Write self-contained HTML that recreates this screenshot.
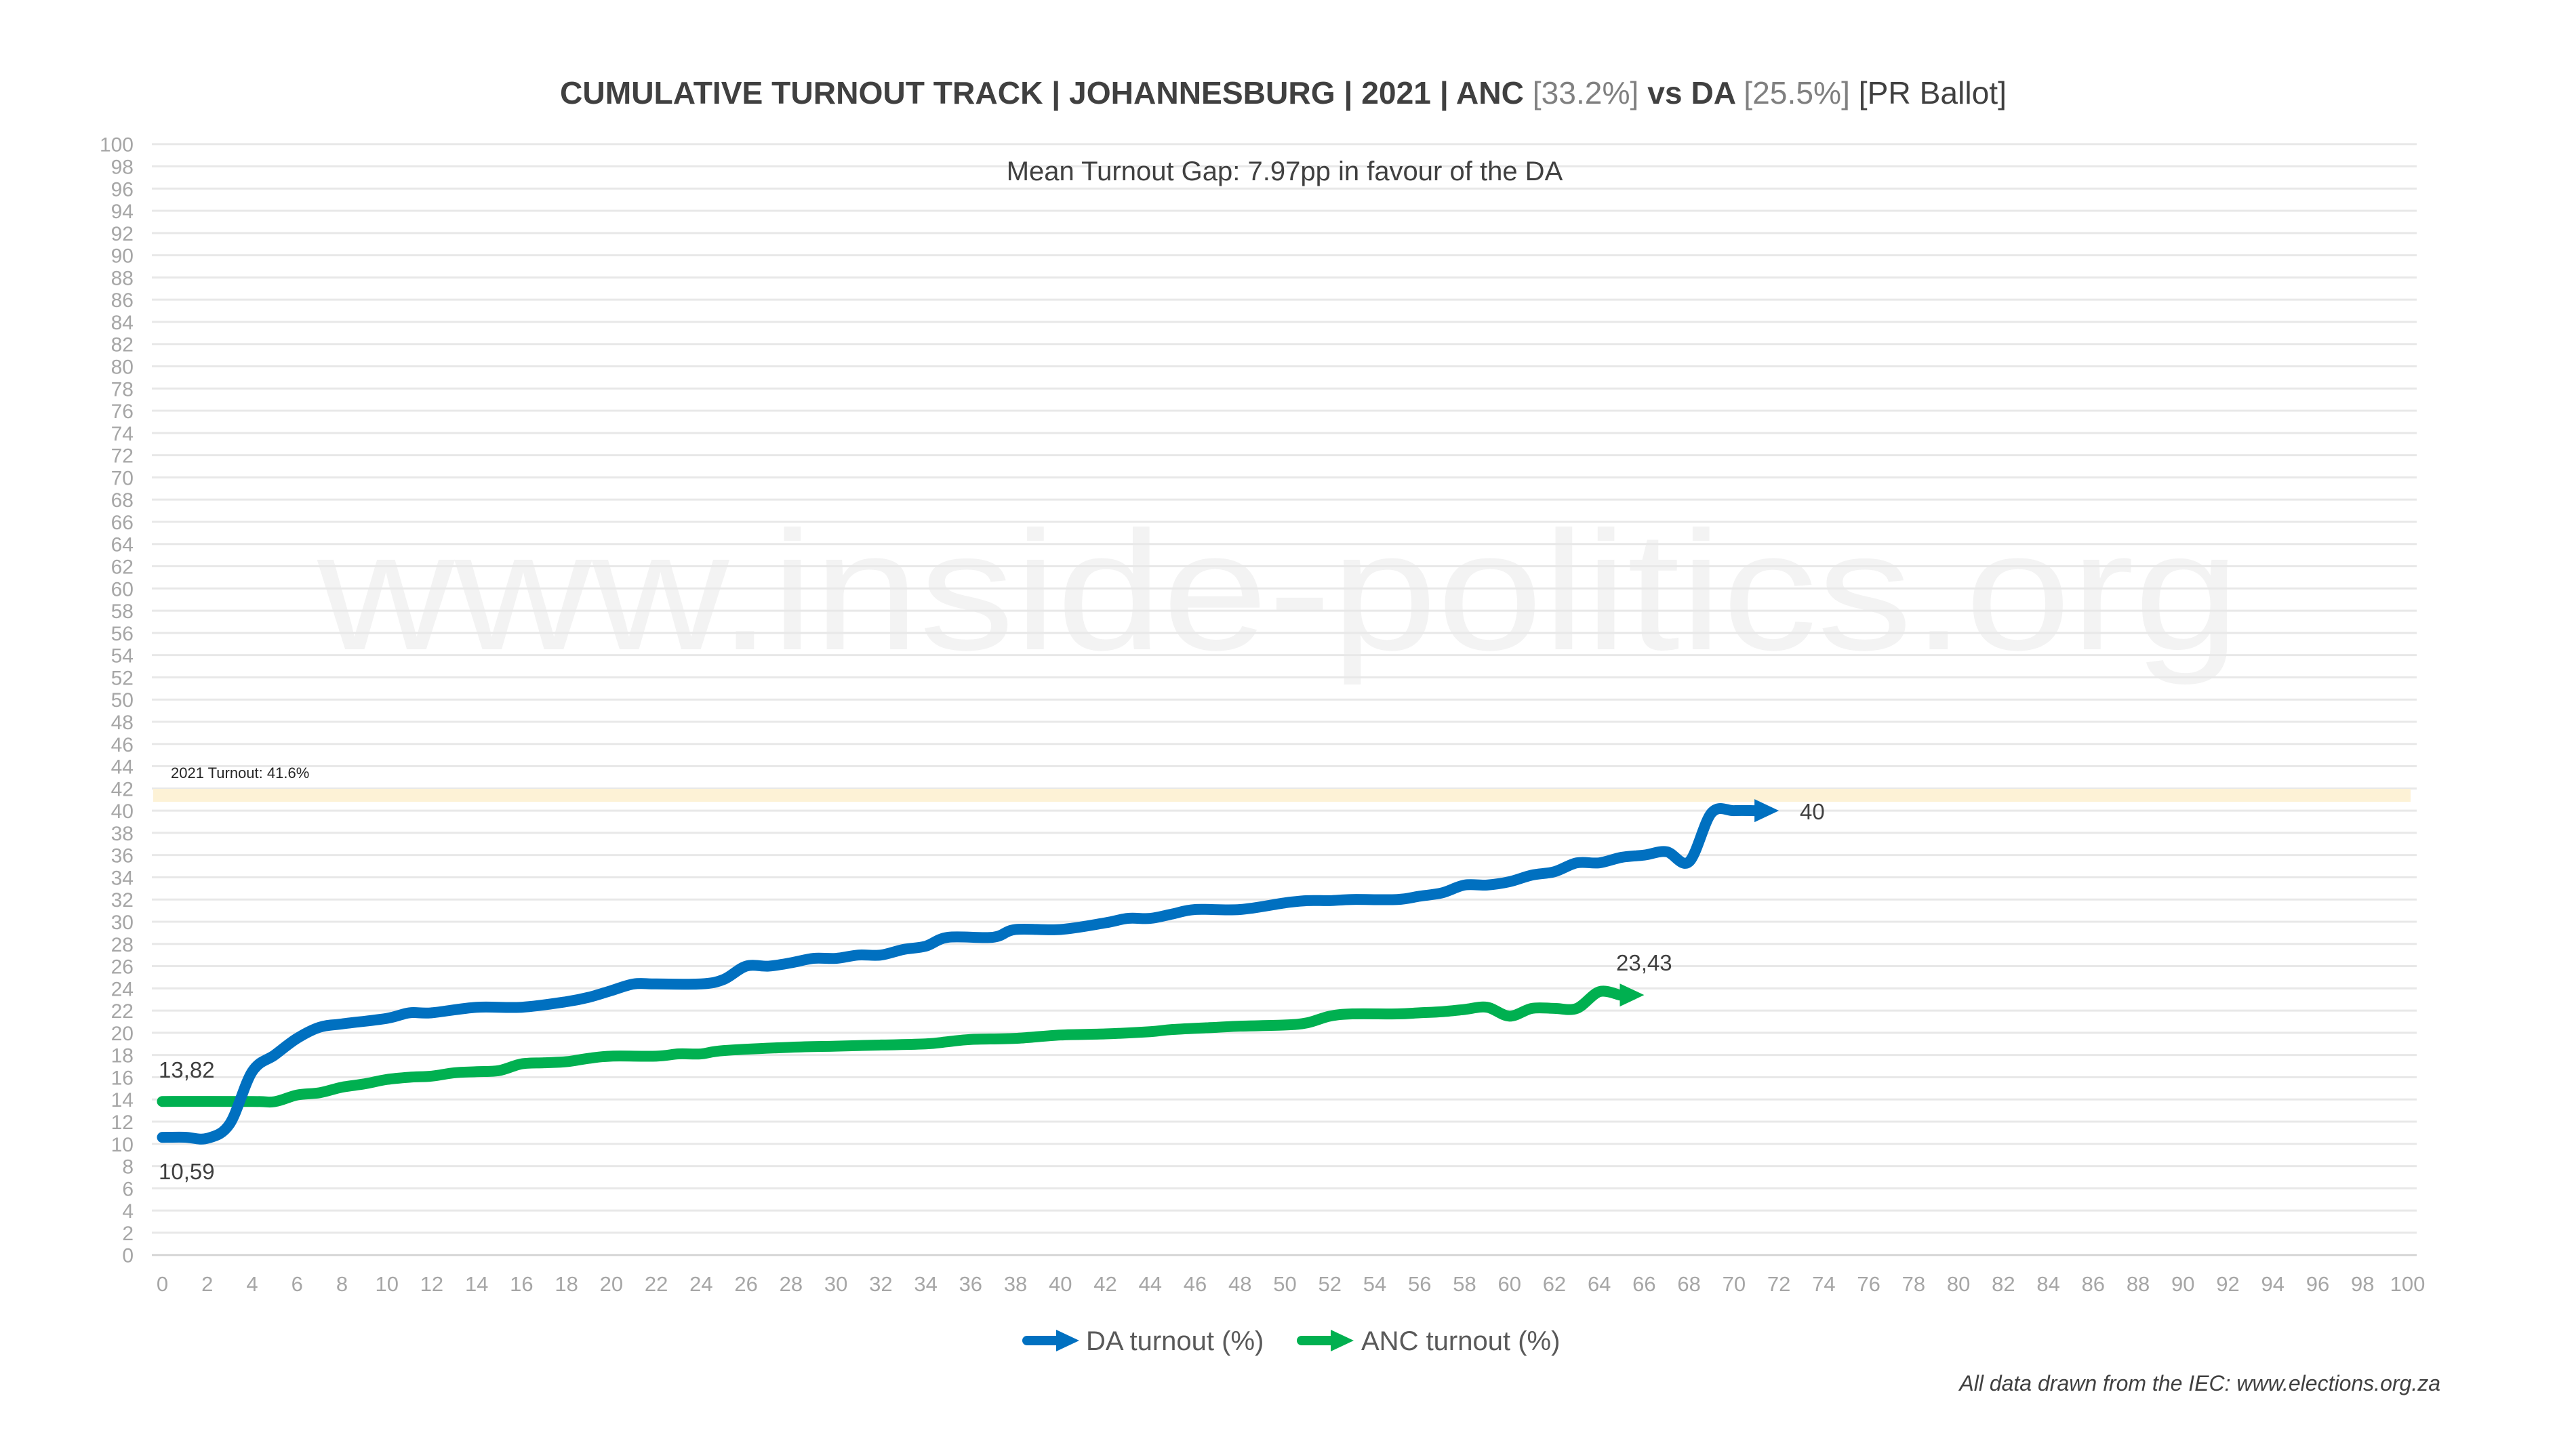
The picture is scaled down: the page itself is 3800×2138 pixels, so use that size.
<!DOCTYPE html>
<html><head><meta charset="utf-8"><style>
html,body{margin:0;padding:0;background:#fff}
svg{display:block}
text{font-family:"Liberation Sans",sans-serif}
</style></head><body>
<svg id="s" width="3800" height="2138" viewBox="0 0 3800 2138" xmlns="http://www.w3.org/2000/svg">
<rect width="3800" height="2138" fill="#fff"/>
<text x="1886" y="2120" font-family="Liberation Serif" font-size="250" fill="#f3f3f3" text-anchor="middle" textLength="2836" lengthAdjust="spacingAndGlyphs" transform="translate(0,-1162)">www.inside-politics.org</text>
<g id="grid"></g>
<rect x="226" y="1164" width="3330" height="19" fill="#fdf2d6"/>
<text x="252" y="1148" font-size="22" fill="#262626">2021 Turnout: 41.6%</text>
<text x="1893" y="153" font-size="46.2" font-weight="bold" fill="#404040" text-anchor="middle">CUMULATIVE TURNOUT TRACK | JOHANNESBURG | 2021 | ANC <tspan fill="#808080" font-weight="normal">[33.2%]</tspan> vs DA <tspan fill="#808080" font-weight="normal">[25.5%]</tspan> <tspan font-weight="normal">[PR Ballot]</tspan></text>
<text x="1895" y="266" font-size="40" fill="#404040" text-anchor="middle">Mean Turnout Gap: 7.97pp in favour of the DA</text>
<defs>
<marker id="ab" markerUnits="userSpaceOnUse" markerWidth="40" markerHeight="40" refX="1" refY="20" orient="auto"><path d="M0,3 L36,20 L0,37 Z" fill="#0070c0"/></marker>
<marker id="ag" markerUnits="userSpaceOnUse" markerWidth="40" markerHeight="40" refX="1" refY="20" orient="auto"><path d="M0,3 L36,20 L0,37 Z" fill="#00b050"/></marker>
</defs>
<path id="pg" fill="none" stroke="#00b050" stroke-width="16" stroke-linecap="round" stroke-linejoin="round" marker-end="url(#ag)"/>
<path id="pb" fill="none" stroke="#0070c0" stroke-width="16" stroke-linecap="round" stroke-linejoin="round" marker-end="url(#ab)"/>
<g font-size="33" fill="#404040">
<text x="234" y="1590">13,82</text>
<text x="234" y="1740">10,59</text>
<text x="2655" y="1209">40</text>
<text x="2384" y="1432">23,43</text>
</g>
<g font-size="40" fill="#595959">
<path d="M1515,1978 L1560,1978" stroke="#0070c0" stroke-width="14" stroke-linecap="round"/>
<path d="M1558,1962 L1592,1978 L1558,1994 Z" fill="#0070c0"/>
<text x="1602" y="1992">DA turnout (%)</text>
<path d="M1920,1978 L1965,1978" stroke="#00b050" stroke-width="14" stroke-linecap="round"/>
<path d="M1963,1962 L1997,1978 L1963,1994 Z" fill="#00b050"/>
<text x="2008" y="1992">ANC turnout (%)</text>
</g>
<text x="3600" y="2052" font-size="32" font-style="italic" fill="#404040" text-anchor="end">All data drawn from the IEC: www.elections.org.za</text>
</svg>
<script>
function X(x){return 239.5+33.12*x}
function Y(v){return 1851.7-16.39*v}
var g=document.getElementById('grid'),h='';
for(var v=0;v<=100;v+=2){var y=Y(v);
h+='<line x1="224" x2="3565" y1="'+y+'" y2="'+y+'" stroke="'+(v==0?'#d6d6d6':'#e8e8e8')+'" stroke-width="3"/>';
h+='<text x="197" y="'+(y+11)+'" font-size="30" fill="#a6a6a6" text-anchor="end">'+v+'</text>';}
for(var x=0;x<=100;x+=2){h+='<text x="'+X(x)+'" y="1905" font-size="31" fill="#a6a6a6" text-anchor="middle">'+x+'</text>';}
g.innerHTML=h;
var da=[[0,10.59],[1,10.6],[2,10.5],[3,11.8],[4,16.5],[5,18],[6,19.5],[7,20.5],[8,20.8],[10,21.3],[11,21.8],[12,21.8],[14,22.3],[16,22.3],[18,22.8],[19,23.2],[20,23.8],[21,24.4],[22,24.4],[24,24.4],[25,24.8],[26,26],[27,26],[28,26.3],[29,26.7],[30,26.7],[31,27],[32,27],[33,27.5],[34,27.8],[35,28.6],[37,28.6],[38,29.3],[40,29.3],[42,29.9],[43,30.3],[44,30.3],[45,30.7],[46,31.1],[48,31.1],[50,31.7],[51,31.9],[52,31.9],[53,32],[55,32],[56,32.3],[57,32.6],[58,33.3],[59,33.3],[60,33.6],[61,34.2],[62,34.5],[63,35.3],[64,35.3],[65,35.8],[66,36],[67,36.3],[68,35.4],[69,39.8],[70,40]];
var anc=[[0,13.82],[4,13.82],[5,13.8],[6,14.4],[7,14.6],[8,15.1],[9,15.4],[10,15.8],[11,16],[12,16.1],[13,16.4],[14,16.5],[15,16.6],[16,17.2],[17,17.3],[18,17.4],[19,17.7],[20,17.9],[22,17.9],[23,18.1],[24,18.1],[25,18.4],[28,18.7],[30,18.8],[32,18.9],[34,19],[35,19.2],[36,19.4],[38,19.5],[40,19.8],[42,19.9],[44,20.1],[45,20.3],[47,20.5],[48,20.6],[50,20.7],[51,20.9],[52,21.5],[53,21.7],[55,21.7],[56,21.8],[57,21.9],[58,22.1],[59,22.3],[60,21.5],[61,22.2],[62,22.2],[63,22.2],[64,23.7]];
function path(d,endx,endv){var p=d.map(function(a){return [X(a[0]),Y(a[1])]});
p.push([endx,Y(endv)]);
var s='M'+p[0][0]+','+p[0][1];
for(var i=0;i<p.length-1;i++){var p0=p[i-1]||p[i],p1=p[i],p2=p[i+1],p3=p[i+2]||p2;
var c1=[p1[0]+(p2[0]-p0[0])/6,p1[1]+(p2[1]-p0[1])/6],c2=[p2[0]-(p3[0]-p1[0])/6,p2[1]-(p3[1]-p1[1])/6];
s+=' C'+c1+' '+c2+' '+p2;}
s+=' L'+(endx+1)+','+Y(endv);return s;}
document.getElementById('pb').setAttribute('d',path(da,X(72)-36,40));
document.getElementById('pg').setAttribute('d',path(anc,X(66)-36,23.4));
</script>
</body></html>
